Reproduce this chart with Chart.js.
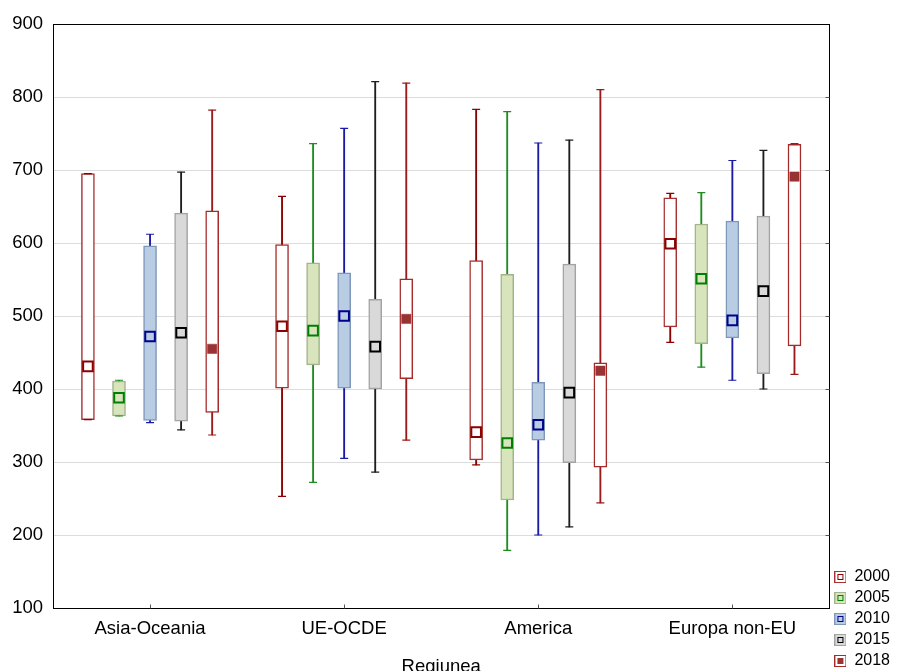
<!DOCTYPE html>
<html>
<head>
<meta charset="utf-8">
<title>Regiunea</title>
<script src="https://cdn.jsdelivr.net/npm/chart.js@4.4.1/dist/chart.umd.min.js"></script>
<style>
  html, body { margin: 0; padding: 0; background: #fff; }
  #wrap { width: 900px; height: 671px; position: relative; }
</style>
</head>
<body>
<div id="wrap"><canvas id="chart"></canvas></div>
<script>
// Regions on the category axis and the years plotted inside each region
const regions = ['Asia-Oceania', 'UE-OCDE', 'America', 'Europa non-EU'];
const years = ['2000', '2005', '2010', '2015', '2018'];

// Box-plot statistics: one row per year, one column per region
const whiskerLow = [
  [358, 253, 296, 464],
  [363, 272, 179, 430],
  [354, 305, 200, 412],
  [344, 286, 211, 400],
  [337, 330, 244, 420]
];
const boxLow = [
  [358, 401, 303, 485],
  [363, 433, 248, 462],
  [357, 401, 330, 470],
  [356, 400, 299, 421],
  [368, 414, 293, 459]
];
const centre = [
  [431, 486, 341, 599],
  [388, 480, 326, 551],
  [472, 500, 351, 494],
  [477, 458, 395, 534],
  [455, 496, 425, 691]
];
const boxHigh = [
  [695, 598, 576, 662],
  [411, 573, 557, 626],
  [596, 559, 409, 630],
  [641, 523, 571, 637],
  [644, 551, 436, 735]
];
const whiskerHigh = [
  [695, 664, 783, 668],
  [412, 736, 780, 669],
  [612, 757, 737, 713],
  [697, 821, 741, 727],
  [782, 819, 810, 736]
];
const yRange = [100, 900];
const yStep = 100;

// Per-year styling
const boxFill      = ['#ffffff', '#d8e4bc', '#b8cce4', '#d9d9d9', '#ffffff'];
const boxBorder    = ['#a83232', '#a3b38a', '#7f98ba', '#a3a3a3', '#a52a2a'];
const whiskerColor = ['#8b0000', '#1e8c1e', '#1a1aa6', '#1e1e1e', '#9a1a1a'];
const markerBorder = ['#8b0000', '#008000', '#00008b', '#000000', '#993333'];
const markerFill   = ['#ffffff', '#d8e4bc', '#b8cce4', '#d9d9d9', '#993333'];

const FONT = '"Liberation Sans", Arial, Helvetica, sans-serif';
Chart.defaults.font.family = FONT;
Chart.defaults.color = '#000';

// Each region gets 80% of its width, split evenly between the years
const catPct = 0.8;
const slot = catPct / years.length;
const slotX = (i, k) => i + (k - (years.length - 1) / 2) * slot;

const datasets = [];
years.forEach((yr, k) => {
  // whisker stem
  datasets.push({
    type: 'bar', label: yr + ' range', xAxisID: 'xl', yAxisID: 'y', order: 3,
    grouped: false, barThickness: 1.2,
    data: regions.map((_, i) => ({ x: slotX(i, k), y: [whiskerLow[k][i], whiskerHigh[k][i]] })),
    backgroundColor: whiskerColor[k], borderWidth: 0
  });
  // interquartile box
  datasets.push({
    type: 'bar', label: yr, xAxisID: 'xl', yAxisID: 'y', order: 2,
    grouped: false, barThickness: 13,
    data: regions.map((_, i) => ({ x: slotX(i, k), y: [boxLow[k][i], boxHigh[k][i]] })),
    backgroundColor: boxFill[k], borderColor: boxBorder[k],
    borderWidth: 1.5, borderSkipped: false
  });
  // whisker caps
  const caps = [];
  regions.forEach((_, i) => {
    caps.push({ x: slotX(i, k), y: whiskerLow[k][i] });
    caps.push({ x: slotX(i, k), y: whiskerHigh[k][i] });
  });
  datasets.push({
    type: 'scatter', label: yr + ' caps', xAxisID: 'xl', yAxisID: 'y', order: 1,
    data: caps, pointStyle: 'line', pointRadius: 4, pointBorderWidth: 1.2,
    borderColor: whiskerColor[k], pointBorderColor: whiskerColor[k]
  });
  // centre marker
  const filled = k === years.length - 1;
  datasets.push({
    type: 'scatter', label: yr + ' centre', xAxisID: 'xl', yAxisID: 'y', order: 0,
    data: regions.map((_, i) => ({ x: slotX(i, k), y: centre[k][i] })),
    pointStyle: 'rect', pointRadius: filled ? 6.6 : 6.8,
    pointBorderWidth: filled ? 0.5 : 2,
    pointBackgroundColor: markerFill[k], pointBorderColor: markerBorder[k]
  });
});

// Small legend swatch: box colours with the centre marker inside
function legendIcon(k) {
  const c = document.createElement('canvas');
  c.width = 12; c.height = 12;
  const g = c.getContext('2d');
  g.fillStyle = boxFill[k];
  g.fillRect(0, 0, 12, 12);
  g.strokeStyle = boxBorder[k];
  g.lineWidth = 1;
  g.strokeRect(0.5, 0.5, 11, 11);
  if (k === years.length - 1) {
    g.fillStyle = markerFill[k];
    g.fillRect(3, 3, 6, 6);
  } else {
    g.strokeStyle = markerBorder[k];
    g.strokeRect(3.5, 3.5, 5, 5);
  }
  return c;
}

// Plot frame plus inward tick marks on the bottom and right edges
const framePlugin = {
  id: 'frame',
  afterDraw(chart) {
    const { ctx, chartArea: a, scales } = chart;
    const L = Math.round(a.left) + 0.5, T = Math.round(a.top) + 0.5;
    const R = Math.round(a.right) + 0.5, B = Math.round(a.bottom) + 0.5;
    ctx.save();
    ctx.strokeStyle = '#000';
    ctx.lineWidth = 1;
    ctx.strokeRect(L, T, R - L, B - T);
    ctx.strokeStyle = '#555';
    ctx.beginPath();
    regions.forEach((_, i) => {
      const x = Math.round(scales.x.getPixelForValue(i)) + 0.5;
      ctx.moveTo(x, B); ctx.lineTo(x, B - 4);
    });
    scales.y.ticks.forEach(t => {
      if (t.value === yRange[0] || t.value === yRange[1]) return;
      const y = Math.round(scales.y.getPixelForValue(t.value)) + 0.5;
      ctx.moveTo(R, y); ctx.lineTo(R - 4, y);
    });
    ctx.stroke();
    ctx.restore();
  }
};

new Chart(document.getElementById('chart'), {
  type: 'bar',
  data: { labels: regions, datasets },
  plugins: [framePlugin],
  options: {
    responsive: true,
    maintainAspectRatio: false,
    animation: false,
    events: [],
    layout: { padding: { top: 24, right: 0, bottom: -3, left: 0 } },
    plugins: {
      tooltip: { enabled: false },
      title: { display: false },
      legend: {
        position: 'right',
        align: 'end',
        onClick: () => {},
        labels: {
          usePointStyle: true,
          boxWidth: 12,
          padding: 5,
          color: '#000',
          font: { size: 16, family: FONT },
          generateLabels: () => years.map((yr, k) => ({
            text: yr,
            pointStyle: legendIcon(k),
            fillStyle: boxFill[k],
            strokeStyle: boxBorder[k],
            lineWidth: 0,
            hidden: false,
            datasetIndex: k * 4 + 1,
            fontColor: '#000'
          }))
        }
      }
    },
    scales: {
      x: {
        type: 'category',
        offset: true,
        grid: { display: false, drawTicks: false },
        border: { display: false },
        ticks: { padding: 10, maxRotation: 0, autoSkip: false, color: '#000', font: { size: 18.5 } },
        title: {
          display: true, text: 'Regiunea', color: '#000',
          font: { size: 18.5, lineHeight: 0.8 },
          padding: { top: 0, bottom: 0 }
        },
        afterFit(s) { s.height = 66; }
      },
      xl: {
        type: 'linear',
        display: false,
        offset: false,
        grid: { offset: false },
        min: -0.5,
        max: regions.length - 0.5
      },
      y: {
        type: 'linear',
        stacked: false,
        min: yRange[0],
        max: yRange[1],
        ticks: { stepSize: yStep, padding: 10, color: '#000', font: { size: 18.5 } },
        grid: {
          drawTicks: false,
          lineWidth: 1,
          color: c => (c.tick && (c.tick.value === yRange[0] || c.tick.value === yRange[1])) ? 'rgba(0,0,0,0)' : '#dcdcdc'
        },
        border: { display: false },
        afterFit(s) { s.width = 53; }
      }
    }
  }
});
</script>
</body>
</html>
